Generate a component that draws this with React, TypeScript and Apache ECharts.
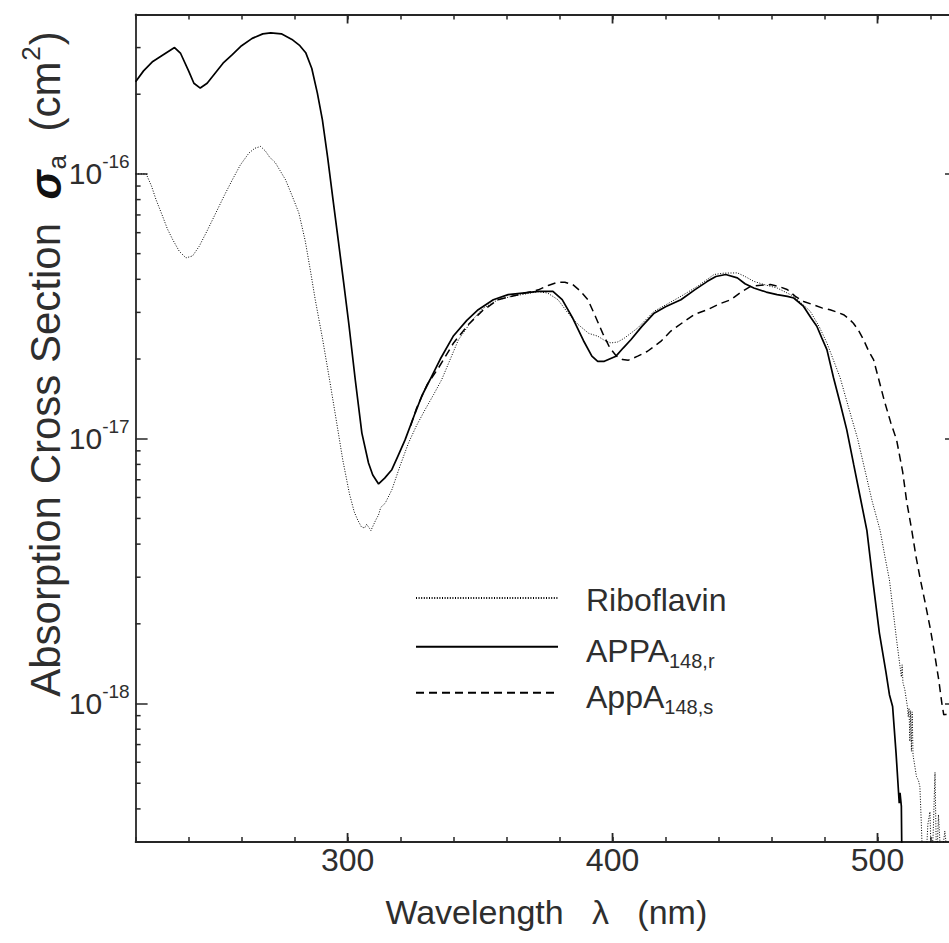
import React, { useEffect, useRef } from 'react';
import * as echarts from 'echarts';

// ---------- data ----------
const X_MIN = 220;
const X_MAX = 530;
const Y_MIN = 3e-19;
const Y_MAX = 4e-16;

const xMajorTicks = [300, 400, 500];
const yMinorTicks = [
  4e-19, 5e-19, 6e-19, 7e-19, 8e-19, 9e-19,
  2e-18, 3e-18, 4e-18, 5e-18, 6e-18, 7e-18, 8e-18, 9e-18,
  2e-17, 3e-17, 4e-17, 5e-17, 6e-17, 7e-17, 8e-17, 9e-17,
  2e-16, 3e-16,
];

const ribWl = [
  220, 222, 224, 226, 227.7, 230, 232, 234, 236.5, 239, 241.5, 244, 247, 250.3, 253.5, 256.5, 259.5,
  262.8, 265, 267.2, 269, 270.5, 272.8, 274.5, 276.6, 279, 281.6, 284, 286, 287.8, 290.5, 293.2,
  295.7, 298.2, 300.7, 302.5, 303.8, 305.2, 306.4, 307.2, 308.2, 308.8, 310.5, 311.7, 312.5, 314.2,
  316.7, 320, 323, 326, 329.3, 332.5, 335.5, 341.8, 347, 351, 356.8, 362, 367, 371.9, 375.5, 379.4,
  383, 387, 391, 394.4, 397, 399.4, 402, 404.5, 409.5, 415.7, 420, 425.8, 432, 438.3, 442, 447.1,
  450, 453.3, 458, 462.1, 468.4, 472, 474.6, 478, 480.9, 485.9, 489, 492.5, 495, 498, 501, 503,
  504.5, 507.2, 509, 509.3, 509.6, 510.3, 511.3, 511.6, 511.9, 512.2, 512.5, 512.8, 513.1, 513.4,
  514.7, 515.5, 516, 516.5, 517, 518, 519, 519.8, 520.3, 521, 521.7, 522.3, 523, 524, 525.4, 526.5, 528,
];
const ribVal = [
  1.0e-16, 1.0e-16, 1.0e-16, 9e-17, 8e-17, 7e-17, 6.2e-17, 5.65e-17, 5.1e-17, 4.82e-17, 4.9e-17,
  5.33e-17, 6.1e-17, 7.13e-17, 8.3e-17, 9.5e-17, 1.08e-16, 1.2e-16, 1.25e-16, 1.27e-16, 1.22e-16,
  1.16e-16, 1.1e-16, 1.03e-16, 9.5e-17, 8.3e-17, 7.13e-17, 5.6e-17, 4.3e-17, 3.35e-17, 2.4e-17,
  1.67e-17, 1.18e-17, 8.3e-18, 6.2e-18, 5.3e-18, 4.94e-18, 4.65e-18, 4.6e-18, 4.75e-18, 4.6e-18,
  4.5e-18, 4.9e-18, 5.16e-18, 5.5e-18, 5.71e-18, 6.41e-18, 8e-18, 9.64e-18, 1.12e-17, 1.29e-17,
  1.47e-17, 1.67e-17, 2.36e-17, 2.8e-17, 3.1e-17, 3.35e-17, 3.45e-17, 3.52e-17, 3.59e-17, 3.55e-17,
  3.35e-17, 3.0e-17, 2.7e-17, 2.5e-17, 2.44e-17, 2.35e-17, 2.3e-17, 2.32e-17, 2.4e-17, 2.62e-17,
  3.03e-17, 3.2e-17, 3.45e-17, 3.76e-17, 4.17e-17, 4.22e-17, 4.23e-17, 4.1e-17, 3.93e-17, 3.8e-17,
  3.71e-17, 3.45e-17, 3.2e-17, 3.03e-17, 2.65e-17, 2.3e-17, 1.7e-17, 1.32e-17, 1.0e-17, 7.8e-18,
  5.8e-18, 4.5e-18, 3.5e-18, 2.93e-18, 1.74e-18, 1.26e-18, 1.4e-18, 1.2e-18, 1.13e-18, 9.7e-19,
  8.9e-19, 9.6e-19, 7.2e-19, 9.4e-19, 6.6e-19, 9.3e-19, 6.4e-19, 5.3e-19, 5.1e-19, 4.85e-19, 3.6e-19,
  2.6e-19, 2.2e-19, 3.5e-19, 3.9e-19, 2.5e-19, 3.2e-19, 5.5e-19, 2.4e-19, 3.8e-19, 2.5e-19, 3.3e-19,
  2.6e-19, 3.1e-19,
];

const appaRWl = [
  220, 223, 226.5, 230, 234.7, 237, 240, 242, 244.4, 247, 250, 253, 256.5, 260, 264, 268, 271, 275,
  279, 282, 284.2, 286.5, 288.6, 290.5, 292.5, 294.5, 296.5, 298.5, 300.5, 302.9, 305.4, 307.9,
  309.5, 311.7, 314, 316.7, 319, 321.7, 325.5, 328, 331.1, 335, 340, 345, 349.3, 355, 360.6, 366,
  372, 377.5, 381, 385, 389, 392.2, 394.4, 396.9, 401.3, 404, 407, 411, 415.7, 420, 425.8, 431,
  435.8, 439, 442.7, 447.1, 450, 453.3, 458, 462.1, 466, 468.4, 472.1, 475, 477.1, 479, 480.9,
  483.4, 486, 488.4, 491, 493.5, 496, 498.2, 500.7, 503.2, 504.5, 505.7, 507, 508.2, 508.5, 509, 509.6,
];
const appaRVal = [
  2.23e-16, 2.45e-16, 2.66e-16, 2.8e-16, 3.0e-16, 2.85e-16, 2.45e-16, 2.2e-16, 2.11e-16, 2.2e-16,
  2.4e-16, 2.62e-16, 2.82e-16, 3.05e-16, 3.25e-16, 3.38e-16, 3.41e-16, 3.38e-16, 3.22e-16, 3.05e-16,
  2.87e-16, 2.5e-16, 2.02e-16, 1.6e-16, 1.15e-16, 8e-17, 5.6e-17, 3.9e-17, 2.7e-17, 1.67e-17,
  1.05e-17, 8.1e-18, 7.3e-18, 6.75e-18, 7.1e-18, 7.64e-18, 8.6e-18, 9.9e-18, 1.25e-17, 1.45e-17,
  1.67e-17, 2.0e-17, 2.45e-17, 2.8e-17, 3.07e-17, 3.35e-17, 3.5e-17, 3.55e-17, 3.6e-17, 3.6e-17,
  3.35e-17, 2.85e-17, 2.35e-17, 2.05e-17, 1.96e-17, 1.96e-17, 2.05e-17, 2.2e-17, 2.37e-17, 2.65e-17,
  2.98e-17, 3.15e-17, 3.35e-17, 3.65e-17, 3.93e-17, 4.1e-17, 4.17e-17, 4.05e-17, 3.85e-17, 3.71e-17,
  3.58e-17, 3.5e-17, 3.45e-17, 3.4e-17, 3.16e-17, 2.85e-17, 2.66e-17, 2.4e-17, 2.17e-17, 1.7e-17,
  1.35e-17, 1.08e-17, 8e-18, 6e-18, 4.5e-18, 2.93e-18, 1.85e-18, 1.31e-18, 1.08e-18, 9.75e-19,
  6.5e-19, 4.2e-19, 4.6e-19, 4.1e-19, 1e-19,
];

const appaSWl = [
  323.8, 326, 330, 334.3, 340, 345.6, 351, 356.8, 362, 367, 372, 376, 379.4, 382, 385, 388, 390.7,
  393.5, 396.3, 399, 401.5, 403.8, 406, 409.5, 413.2, 418.2, 422, 427, 431, 435.8, 440, 444.6, 448,
  452.1, 456, 459.6, 463, 465.9, 469, 472.1, 476, 479, 482.1, 485, 487.2, 489, 490.9, 492.8, 494.7,
  496.6, 498.5, 500.3, 502.5, 505, 507.2, 509.5, 511, 512.9, 514.5, 516.2, 518, 520, 521.5, 523.1,
  524.3, 525, 525.5, 527, 530,
];
const appaSVal = [
  1.12e-17, 1.3e-17, 1.6e-17, 1.85e-17, 2.3e-17, 2.7e-17, 3.05e-17, 3.35e-17, 3.45e-17, 3.55e-17,
  3.65e-17, 3.8e-17, 3.9e-17, 3.9e-17, 3.82e-17, 3.6e-17, 3.35e-17, 2.9e-17, 2.5e-17, 2.2e-17,
  2.05e-17, 1.99e-17, 1.98e-17, 2.05e-17, 2.14e-17, 2.33e-17, 2.55e-17, 2.77e-17, 2.95e-17, 3.07e-17,
  3.22e-17, 3.35e-17, 3.55e-17, 3.76e-17, 3.8e-17, 3.82e-17, 3.75e-17, 3.66e-17, 3.45e-17, 3.3e-17,
  3.2e-17, 3.12e-17, 3.07e-17, 3.0e-17, 2.94e-17, 2.85e-17, 2.73e-17, 2.57e-17, 2.37e-17, 2.15e-17,
  1.99e-17, 1.7e-17, 1.4e-17, 1.15e-17, 9.9e-18, 7.5e-18, 5.8e-18, 4.53e-18, 3.6e-18, 2.93e-18,
  2.4e-18, 1.9e-18, 1.55e-18, 1.23e-18, 1.0e-18, 9.06e-19, 9.1e-19, 9.06e-19, 9e-19,
];

const seriesNames = ['Riboflavin', 'APPA148,r', 'AppA148,s'];
const legendLabels: Record<string, string> = {
  'Riboflavin': '{r|Riboflavin}',
  'APPA148,r': '{m|APPA}{s|148,r}',
  'AppA148,s': '{m|AppA}{s|148,s}',
};

const xTitle = 'Wavelength\u00a0\u00a0\u00a0\u03bb\u00a0\u00a0\u00a0(nm)';
const yTitle = '{t|Absorption Cross Section\u00a0\u00a0}{g|\u03c3}{a|a}{t|\u00a0\u00a0(cm}{p|2}{t|)}';

// ---------- styles ----------
const FONT = "'Liberation Sans', Arial, Helvetica, sans-serif";
const NARROW = "'Liberation Sans Narrow', 'Arial Narrow', 'Liberation Sans', Arial, sans-serif";
const TXT = '#2e2e2e';
const AX = '#262626';

const CHART_W = 960; // wider than the page: the right frame lies just outside the picture
const CHART_H = 943;

const LEGEND_TOPS = [575.5, 624.2, 670.3];

const zip = (a: number[], b: number[]) => a.map((v, i) => [v, b[i]]);

export default function App() {
  const ref = useRef<HTMLDivElement>(null);

  useEffect(() => {
    if (!ref.current) return;
    const chart = echarts.init(ref.current, undefined, { renderer: 'svg' });

    const axisLine = { show: true, onZero: false, lineStyle: { color: AX, width: 1.8 } };

    const legendRich = {
      r: { fontSize: 32, height: 32, lineHeight: 45, verticalAlign: 'top', fontFamily: FONT, color: TXT, padding: [8.2, 0, 0, 23] },
      m: { fontSize: 32, height: 32, lineHeight: 45, verticalAlign: 'top', fontFamily: FONT, color: TXT, padding: [10.5, 0, 0, 23] },
      s: { fontSize: 20, height: 20, lineHeight: 45, verticalAlign: 'top', fontFamily: FONT, color: TXT, padding: [27, 0, 0, 0] },
    };

    const legends = seriesNames.map((name, i) => ({
      data: [name],
      orient: 'vertical',
      left: 415,
      top: LEGEND_TOPS[i],
      padding: 0,
      itemWidth: 142,
      itemHeight: 14,
      selectedMode: false,
      itemStyle: { opacity: 0 },
      formatter: (n: string) => legendLabels[n] || n,
      textStyle: { color: TXT, fontFamily: FONT, rich: legendRich },
    }));

    const option: any = {
      animation: false,
      backgroundColor: '#ffffff',
      grid: { left: 135.6, top: 14.5, right: CHART_W - 958.4, bottom: 101, containLabel: false },
      legend: legends,
      xAxis: [
        {
          type: 'value',
          position: 'bottom',
          min: X_MIN,
          max: X_MAX,
          interval: 20,
          axisLine,
          splitLine: { show: false },
          axisTick: { show: true, inside: true, length: 5, lineStyle: { color: AX, width: 1.5 } },
          axisLabel: {
            show: true,
            margin: 2,
            fontSize: 32,
            lineHeight: 32,
            fontFamily: NARROW,
            color: TXT,
            formatter: (v: number) => (Math.round(v) % 100 === 0 ? String(Math.round(v)) : ''),
          },
          name: xTitle,
          nameLocation: 'middle',
          nameGap: 53,
          nameTextStyle: { fontSize: 34, lineHeight: 34, fontFamily: FONT, color: TXT },
        },
        {
          type: 'value',
          position: 'top',
          min: X_MIN,
          max: X_MAX,
          interval: 20,
          axisLine,
          splitLine: { show: false },
          axisTick: { show: true, inside: true, length: 5, lineStyle: { color: AX, width: 1.5 } },
          axisLabel: { show: false },
        },
      ],
      yAxis: [
        {
          type: 'log',
          logBase: 10,
          position: 'left',
          min: Y_MIN,
          max: Y_MAX,
          axisLine,
          splitLine: { show: false },
          minorTick: { show: false },
          axisTick: { show: true, inside: true, length: 12, lineStyle: { color: AX, width: 1.5 } },
          axisLabel: {
            show: true,
            margin: 6,
            fontFamily: NARROW,
            color: TXT,
            formatter: (v: number) => {
              const e = Math.log10(v);
              const r = Math.round(e);
              if (Math.abs(e - r) > 1e-6) return '';
              return `{b|10}{e|${r}}`;
            },
            rich: {
              b: { fontSize: 30, lineHeight: 42, fontFamily: NARROW, color: TXT },
              e: { fontSize: 19, height: 19, lineHeight: 19, verticalAlign: 'top', padding: [-1, 0, 0, 0], fontFamily: NARROW, color: TXT },
            },
          },
        },
        {
          type: 'log',
          logBase: 10,
          position: 'right',
          min: Y_MIN,
          max: Y_MAX,
          axisLine,
          splitLine: { show: false },
          axisTick: { show: true, inside: true, length: 12, lineStyle: { color: AX, width: 1.5 } },
          axisLabel: { show: false },
        },
      ],
      graphic: [
        {
          type: 'text',
          x: 45,
          y: 364,
          rotation: Math.PI / 2,
          silent: true,
          style: {
            text: yTitle,
            align: 'center',
            verticalAlign: 'middle',
            fill: TXT,
            font: `42px ${FONT}`,
            rich: {
              t: { fontSize: 42, lineHeight: 62, fontFamily: FONT, fill: TXT },
              g: { fontSize: 44, lineHeight: 62, fontFamily: FONT, fontStyle: 'italic', fontWeight: 'bold', fill: '#111' },
              a: { fontSize: 26, height: 26, lineHeight: 26, verticalAlign: 'top', padding: [29.5, 0, 0, 1], fontFamily: FONT, fill: TXT },
              p: { fontSize: 26, height: 26, lineHeight: 26, verticalAlign: 'top', padding: [3.5, 1, 0, 1], fontFamily: FONT, fill: TXT },
            },
          },
        },
      ],
      series: [
        {
          type: 'line',
          name: seriesNames[0],
          data: zip(ribWl, ribVal),
          symbol: 'none',
          showSymbol: false,
          clip: true,
          z: 3,
          itemStyle: { color: '#000' },
          lineStyle: { color: '#000', width: 1, type: [1, 1.6] },
        },
        {
          type: 'line',
          name: seriesNames[1],
          data: zip(appaRWl, appaRVal),
          symbol: 'none',
          showSymbol: false,
          clip: true,
          z: 4,
          itemStyle: { color: '#000' },
          lineStyle: { color: '#000', width: 1.7, type: 'solid' },
        },
        {
          type: 'line',
          name: seriesNames[2],
          data: zip(appaSWl, appaSVal),
          symbol: 'none',
          showSymbol: false,
          clip: true,
          z: 3,
          itemStyle: { color: '#000' },
          lineStyle: { color: '#000', width: 1.5, type: [8, 5] },
        },
        {
          type: 'custom',
          name: 'xMajorTicks',
          silent: true,
          clip: false,
          z: 10,
          data: xMajorTicks.map((v) => [v, Y_MIN]),
          renderItem: (params: any, api: any) => {
            const cs = params.coordSys;
            const x = api.coord([api.value(0), Y_MIN])[0];
            const yb = cs.y + cs.height;
            const st = { stroke: AX, lineWidth: 1.8 };
            return {
              type: 'group',
              children: [
                { type: 'line', shape: { x1: x, y1: yb, x2: x, y2: yb - 9 }, style: st },
                { type: 'line', shape: { x1: x, y1: cs.y, x2: x, y2: cs.y + 9 }, style: st },
              ],
            };
          },
        },
        {
          type: 'custom',
          name: 'yMinorTicks',
          silent: true,
          clip: false,
          z: 10,
          data: yMinorTicks.map((v) => [X_MIN, v]),
          renderItem: (params: any, api: any) => {
            const cs = params.coordSys;
            const y = api.coord([X_MIN, api.value(1)])[1];
            return {
              type: 'line',
              shape: { x1: cs.x, y1: y, x2: cs.x + 5, y2: y },
              style: { stroke: AX, lineWidth: 1.5 },
            };
          },
        },
      ],
    };

    chart.setOption(option);
    return () => chart.dispose();
  }, []);

  return (
    <div style={{ position: 'absolute', left: 0, top: 0, width: 949, height: 943, overflow: 'hidden', background: '#fff' }}>
      <div ref={ref} style={{ width: CHART_W, height: CHART_H }} />
    </div>
  );
}
